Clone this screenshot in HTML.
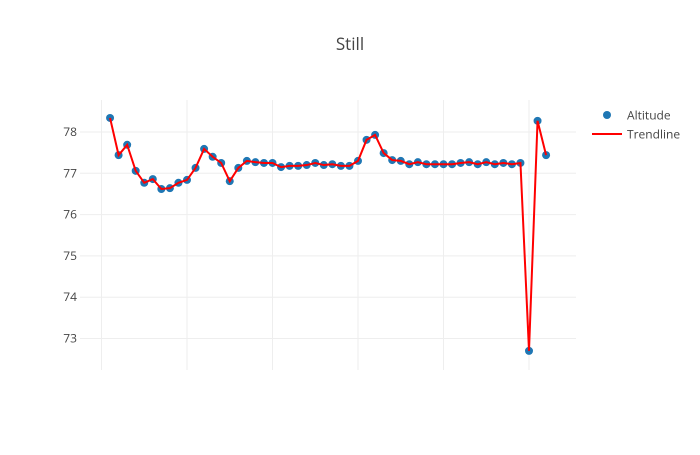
<!DOCTYPE html>
<html><head><meta charset="utf-8"><style>
body{margin:0;background:#fff;font-family:"Liberation Sans",sans-serif}
svg text{font-family:"Open Sans","Liberation Sans",sans-serif}
</style></head><body>
<svg id="chart" width="700" height="450">
<rect width="700" height="450" fill="#fff"/>
<text x="350" y="50" text-anchor="middle" font-size="17" fill="#444">Still</text>
<g id="grid"></g><g id="yticks"></g><g id="series"></g>
<g>
<circle cx="607" cy="115" r="4" fill="#1f77b4"/>
<text x="627" y="119.5" font-size="12" fill="#444">Altitude</text>
<line x1="592" y1="134" x2="622" y2="134" stroke="red" stroke-width="2"/>
<text x="627" y="138.5" font-size="12" fill="#444">Trendline</text>
</g>
</svg>
<script>
const xIndex=[1,2,3,4,5,6,7,8,9,10,11,12,13,14,15,16,17,18,19,20,21,22,23,24,25,26,27,28,29,30,31,32,33,34,35,36,37,38,39,40,41,42,43,44,45,46,47,48,49,50,51,52];
const altitude=[78.34,77.44,77.69,77.06,76.77,76.86,76.62,76.64,76.77,76.84,77.13,77.59,77.40,77.25,76.81,77.13,77.30,77.27,77.25,77.25,77.15,77.18,77.18,77.20,77.25,77.20,77.22,77.18,77.18,77.30,77.81,77.93,77.49,77.32,77.30,77.22,77.27,77.22,77.22,77.22,77.22,77.25,77.27,77.22,77.27,77.22,77.25,77.22,77.25,72.70,78.27,77.44];
const yTicks=[73,74,75,76,77,78];
const xGrid=[0,10,20,30,40,50];
const NS="http://www.w3.org/2000/svg";
const X=v=>101.5+v*8.55;
const Y=v=>132+(78-v)*41.3;
function mk(t,a,p){const e=document.createElementNS(NS,t);for(const k in a)e.setAttribute(k,a[k]);p.appendChild(e);return e;}
const grid=document.getElementById('grid'),yt=document.getElementById('yticks'),ser=document.getElementById('series');
xGrid.forEach(v=>{const l=mk('line',{x1:X(v),x2:X(v),y1:100,y2:370,stroke:'#eee','stroke-width':1},grid);

});
yTicks.forEach(v=>{const l=mk('line',{x1:80,x2:576,y1:Y(v),y2:Y(v),stroke:'#eee','stroke-width':1},grid);


const t=mk('text',{x:77,y:Y(v)+4,'text-anchor':'end','font-size':12,fill:'#444'},yt);t.textContent=v;

});
altitude.forEach((v,i)=>{const c=mk('circle',{cx:X(xIndex[i]),cy:Y(v),r:4,fill:'#1f77b4'},ser);

});
const pl=mk('polyline',{points:altitude.map((v,i)=>X(xIndex[i])+','+Y(v)).join(' '),fill:'none',stroke:'red','stroke-width':2},ser);


</script>
</body></html>
